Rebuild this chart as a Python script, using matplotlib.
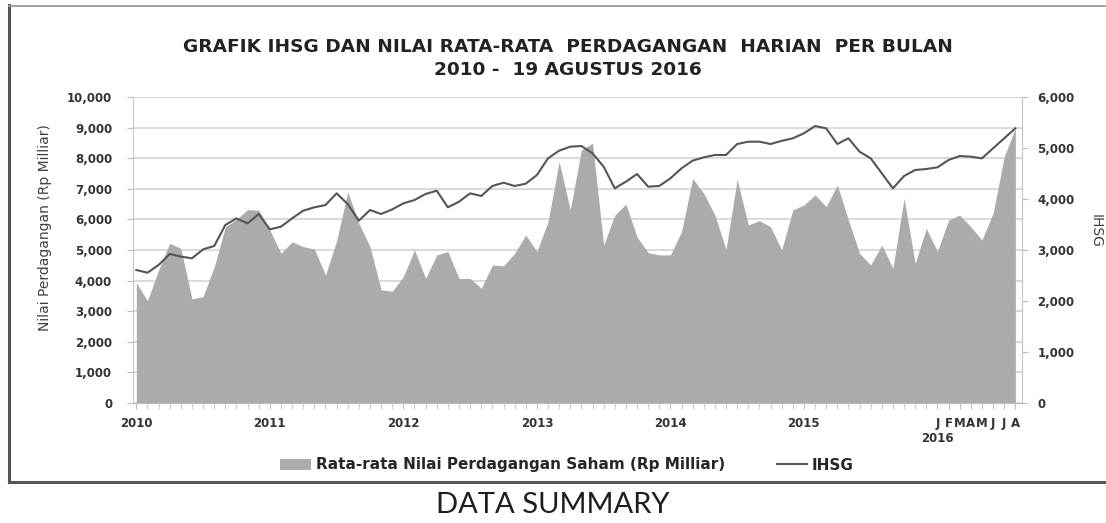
import numpy as np
import matplotlib
matplotlib.use("Agg")
import matplotlib.pyplot as plt
from matplotlib.ticker import FuncFormatter, FixedLocator
from matplotlib.patches import Patch
from matplotlib.lines import Line2D
import matplotlib.transforms as mtransforms

# Monthly data, Jan 2010 .. Aug 2016 (80 months)
nilai_perdagangan = [
    3930, 3340, 4350, 5220, 5050, 3400, 3480, 4450, 5750, 6000, 6320, 6300,   # 2010
    5650, 4890, 5270, 5110, 5030, 4180, 5300, 6900, 5870, 5110, 3700, 3650,   # 2011
    4130, 5000, 4070, 4840, 4950, 4070, 4070, 3750, 4510, 4480, 4890, 5490,   # 2012
    4950, 5925, 7890, 6310, 8270, 8490, 5160, 6140, 6500, 5430, 4910, 4840,   # 2013
    4840, 5600, 7340, 6850, 6140, 5020, 7310, 5820, 5960, 5760, 5000, 6310,   # 2014
    6470, 6800, 6420, 7120, 5980, 4890, 4510, 5160, 4400, 6690, 4560, 5710,   # 2015
    4950, 5980, 6140, 5760, 5330, 6200, 8050, 8980,                           # 2016
]
ihsg = [
    2608, 2555, 2706, 2922, 2870, 2837, 3013, 3078, 3490, 3620, 3523, 3706,
    3405, 3457, 3620, 3771, 3837, 3882, 4111, 3900, 3575, 3784, 3706, 3797,
    3915, 3980, 4098, 4163, 3837, 3947, 4111, 4059, 4255, 4320, 4255, 4300,
    4470, 4797, 4948, 5026, 5039, 4895, 4634, 4209, 4340, 4490, 4242, 4255,
    4405, 4602, 4752, 4817, 4863, 4863, 5078, 5124, 5124, 5078, 5140, 5190,
    5288, 5431, 5386, 5078, 5190, 4928, 4797, 4503, 4209, 4451, 4569, 4588,
    4621, 4765, 4843, 4830, 4797, 4994, 5190, 5386,
]
year_labels = ["2010", "2011", "2012", "2013", "2014", "2015"]
month_labels_2016 = ["J", "F", "M", "A", "M", "J", "J", "A"]

W, H = 1106, 523
fig = plt.figure(figsize=(W / 100, H / 100), dpi=100)

def fx(px):
    return px / W

def fy(py):
    return 1 - py / H

# outer frame
fig.add_artist(Line2D([fx(9), fx(9)], [fy(5), fy(482)], color="#555555", lw=2.2))
fig.add_artist(Line2D([fx(9), 1.0], [fy(6), fy(6)], color="#9a9a9a", lw=1.3))
fig.add_artist(Line2D([fx(9), 1.0], [fy(482), fy(482)], color="#555555", lw=2.2))

ax = fig.add_axes([fx(133), fy(403), fx(1022) - fx(133), fy(97) - fy(403)])
x = np.arange(len(nilai_perdagangan))
ax.fill_between(x, 0, nilai_perdagangan, color="#ababab", linewidth=0, zorder=2)
ax.set_xlim(-0.3, 79.6)
ax.set_ylim(0, 10000)
ax.set_yticks(np.arange(0, 10001, 1000))
ax.yaxis.set_major_formatter(FuncFormatter(lambda v, p: f"{int(v):,}"))
ax.grid(axis="y", color="#d9d9d9", linewidth=1.4)
ax.set_axisbelow(True)

major_pos = [0, 12, 24, 36, 48, 60] + list(range(72, 80))
ax.xaxis.set_major_locator(FixedLocator(major_pos))
ax.set_xticklabels(year_labels + month_labels_2016)
ax.xaxis.set_minor_locator(FixedLocator(list(range(0, 80))))
ax.tick_params(axis="x", which="both", length=4, color="#bfbfbf", pad=6,
               labelsize=8.5, labelcolor="#333333")
ax.tick_params(axis="y", length=4, color="#bfbfbf", pad=11,
               labelsize=8.5, labelcolor="#333333")
for lab in ax.get_xticklabels() + ax.get_yticklabels():
    lab.set_fontweight("bold")
    lab.set_family("DejaVu Sans")

for s in ["left", "right"]:
    ax.spines[s].set_color("#c8c8c8")
ax.spines["bottom"].set_color("#bfbfbf")
ax.spines["top"].set_visible(False)

trans = mtransforms.blended_transform_factory(ax.transData, fig.transFigure)
ax.text(72, fy(438), "2016", transform=trans, ha="center", va="center",
        fontsize=8.5, fontweight="bold", color="#333333", family="DejaVu Sans")

ax2 = ax.twinx()
ax2.plot(x, ihsg, color="#555555", lw=1.5, zorder=3)
ax2.set_ylim(0, 6000)
ax2.set_yticks(np.arange(0, 6001, 1000))
ax2.yaxis.set_major_formatter(FuncFormatter(lambda v, p: f"{int(v):,}"))
ax2.tick_params(axis="y", length=4, color="#bfbfbf", pad=7,
                labelsize=8.5, labelcolor="#333333")
for lab in ax2.get_yticklabels():
    lab.set_fontweight("bold")
for s in ["left", "top", "bottom"]:
    ax2.spines[s].set_visible(False)
ax2.spines["right"].set_color("#c8c8c8")

# titles and axis labels
fig.text(fx(568), fy(47), "GRAFIK IHSG DAN NILAI RATA-RATA  PERDAGANGAN  HARIAN  PER BULAN",
         ha="center", va="center", fontsize=13.3, fontweight="bold",
         family="DejaVu Sans", color="#222222")
fig.text(fx(568), fy(70), "2010 -  19 AGUSTUS 2016",
         ha="center", va="center", fontsize=13.3, fontweight="bold",
         family="DejaVu Sans", color="#222222")
fig.text(fx(45), fy(228), "Nilai Perdagangan (Rp Milliar)", rotation=90,
         ha="center", va="center", fontsize=10, color="#404040", family="DejaVu Sans")
fig.text(fx(1096), fy(231), "IHSG", rotation=-90,
         ha="center", va="center", fontsize=10, color="#404040", family="DejaVu Sans")

handles = [Patch(facecolor="#ababab", edgecolor="none"),
           Line2D([0], [0], color="#555555", lw=1.5)]
labels = ["Rata-rata Nilai Perdagangan Saham (Rp Milliar)", "IHSG"]
fig.legend(handles, labels, loc="center", bbox_to_anchor=(fx(567), fy(465)), ncol=2,
           frameon=False, prop=dict(family="DejaVu Sans", weight="bold", size=11),
           handlelength=2.0, handleheight=0.7, handletextpad=0.3, columnspacing=3.4,
           labelcolor="#262626")

fig.text(0.5, fy(505), "DATA SUMMARY", ha="center", va="center", fontsize=21,
         color="#1e1e1e", family="Lato")

fig.savefig("out.png", dpi=100)
